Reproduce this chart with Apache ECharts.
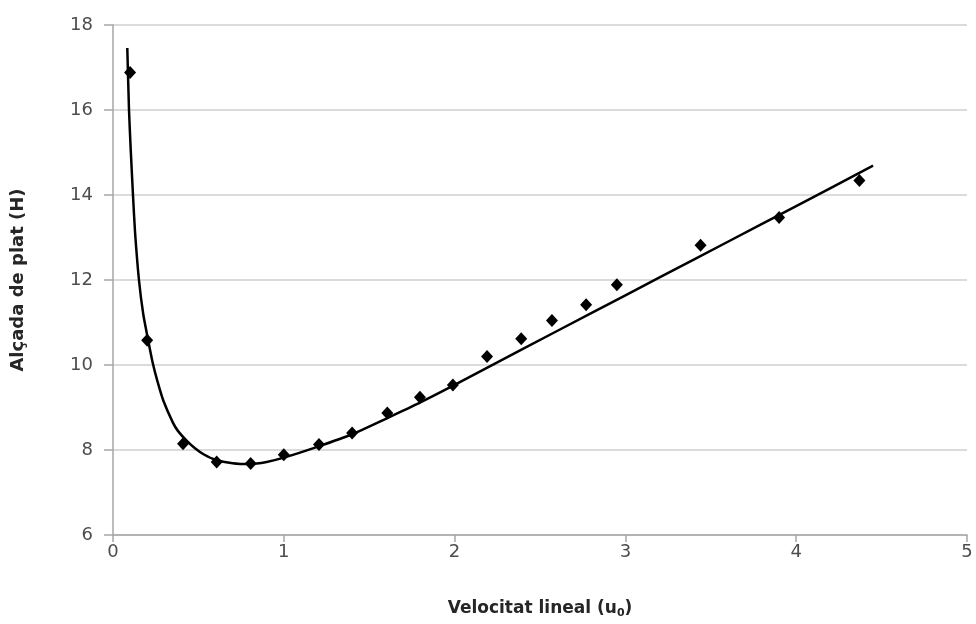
<!DOCTYPE html>
<html>
<head>
<meta charset="utf-8">
<script src="https://cdn.jsdelivr.net/npm/echarts@6/dist/echarts.min.js"></script>
<style>
html,body{margin:0;padding:0;background:#fff;}
#chart{width:976px;height:624px;}
</style>
</head>
<body>
<div id="chart"></div>
<script>
// Measured points (u0, H)
const uData = [0.1, 0.2, 0.41, 0.607, 0.806, 1.0, 1.206, 1.40, 1.606, 1.797, 1.99, 2.19, 2.39, 2.57, 2.77, 2.95, 3.44, 3.90, 4.37];
const hData = [16.88, 10.58, 8.15, 7.72, 7.68, 7.89, 8.13, 8.40, 8.87, 9.24, 9.53, 10.20, 10.62, 11.05, 11.42, 11.89, 12.82, 13.47, 14.34];

// Trend curve
const curveU = [0.0837, 0.0937, 0.1036, 0.117, 0.129, 0.152, 0.177, 0.207, 0.232, 0.26, 0.295, 0.35, 0.38, 0.431, 0.48, 0.53, 0.6, 0.7, 0.8, 0.9, 1.0, 1.2, 1.4, 1.6, 1.8, 2.0, 2.4, 2.8, 3.2, 3.6, 4.0, 4.45];
const curveH = [17.46, 16.0, 15.08, 14.0, 13.13, 12.0, 11.2, 10.56, 10.06, 9.62, 9.16, 8.65, 8.45, 8.22, 8.04, 7.9, 7.77, 7.69, 7.67, 7.72, 7.82, 8.08, 8.37, 8.74, 9.12, 9.53, 10.38, 11.22, 12.06, 12.9, 13.74, 14.69];

const xTicks = [0, 1, 2, 3, 4, 5];
const yTicks = [6, 8, 10, 12, 14, 16, 18];

const chart = echarts.init(document.getElementById('chart'));
const tickFont = '"DejaVu Sans", sans-serif';
const nameFont = '"DejaVu Sans", sans-serif';
chart.setOption({
  animation: false,
  grid: {left: 113, right: 9, top: 25, bottom: 86, containLabel: false},
  xAxis: {
    type: 'value',
    min: xTicks[0], max: xTicks[xTicks.length - 1], interval: 1,
    name: '{n|Velocitat lineal (u}{s|0}{n|)}',
    nameLocation: 'middle', nameGap: 64,
    nameTextStyle: {
      rich: {
        n: {fontFamily: nameFont, fontSize: 17, fontWeight: 'bold', color: '#262626'},
        s: {fontFamily: nameFont, fontSize: 11, fontWeight: 'bold', color: '#262626', verticalAlign: 'bottom', padding: [9, 0, 0, 0]}
      }
    },
    axisLine: {show: true, lineStyle: {color: '#a6a6a6', width: 1.5}},
    axisTick: {show: true, length: 7, lineStyle: {color: '#a6a6a6', width: 1.5}},
    axisLabel: {fontFamily: tickFont, fontSize: 18, color: '#4d4d4d', margin: 8},
    splitLine: {show: false}
  },
  yAxis: {
    type: 'value',
    min: yTicks[0], max: yTicks[yTicks.length - 1], interval: 2,
    name: 'Alçada de plat (H)',
    nameLocation: 'middle', nameGap: 86, nameRotate: 90,
    nameTextStyle: {fontFamily: nameFont, fontSize: 18, fontWeight: 'bold', color: '#262626'},
    axisLine: {show: true, lineStyle: {color: '#a6a6a6', width: 1.5}},
    axisTick: {show: true, length: 9, lineStyle: {color: '#a6a6a6', width: 1.5}},
    axisLabel: {fontFamily: tickFont, fontSize: 18, color: '#4d4d4d', margin: 20},
    splitLine: {show: true, lineStyle: {color: '#cfcfcf', width: 1.5}}
  },
  series: [
    {
      type: 'line',
      data: curveU.map((u, i) => [u, curveH[i]]),
      showSymbol: false,
      smooth: 0.2,
      lineStyle: {color: '#000', width: 2.5},
      z: 2
    },
    {
      type: 'scatter',
      data: uData.map((u, i) => [u, hData[i]]),
      symbol: 'diamond',
      symbolSize: [12, 13],
      itemStyle: {color: '#000', opacity: 1},
      z: 3
    }
  ]
});
</script>
</body>
</html>
